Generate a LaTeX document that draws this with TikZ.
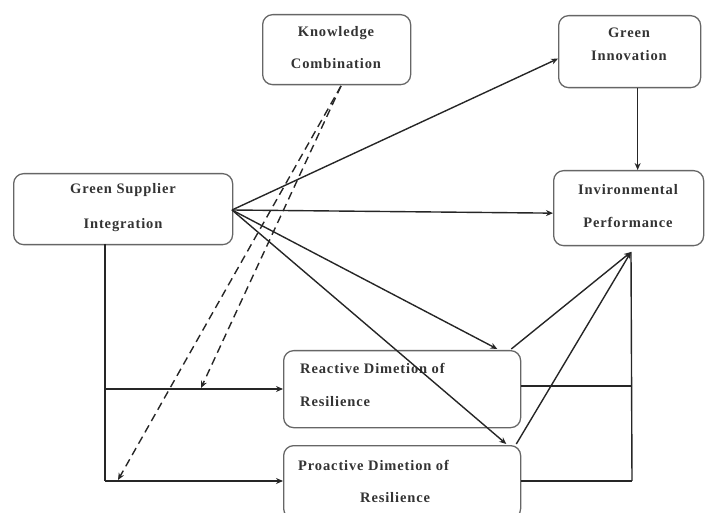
\documentclass[tikz,border=0pt]{standalone}
\usepackage{fontspec}
\setmainfont{Liberation Serif}
\newfontfamily\lblfont[LetterSpace=6]{Liberation Serif}
\usetikzlibrary{arrows.meta,calc}
\begin{document}
\begin{tikzpicture}[x=1pt,y=-1pt,
  box/.style={draw=black!60, line width=1.3pt, rounded corners=10pt, anchor=north west, inner sep=0pt},
  lbl/.style={font=\lblfont\fontsize{14.5}{16}\selectfont\bfseries, text=black!80, inner sep=0pt},
  con/.style={draw=black!85, line width=1.4pt},
  arr/.style={con, -{Stealth[length=7pt,width=6pt]}},
  dsh/.style={arr, dash pattern=on 8pt off 5pt}]
\useasboundingbox (0,0) rectangle (705,513);
% boxes
\node[box, minimum width=148pt, minimum height=70pt] (kc) at (262,14) {};
\node[box, minimum width=142pt, minimum height=72pt] (gi) at (558,15) {};
\node[box, minimum width=150pt, minimum height=75pt] (ep) at (553,170) {};
\node[box, minimum width=219pt, minimum height=71pt] (gsi) at (13,173) {};
\node[box, minimum width=237pt, minimum height=77pt] (re) at (283,350) {};
\node[box, minimum width=237pt, minimum height=73pt] (pr) at (283,445) {};
% texts
\node[lbl] (kc1) at (336,33) {Knowledge};
\node[lbl] (kc2) at (336,64) {Combination};
\node[lbl] (gi1) at (629,33) {Green};
\node[lbl] (gi2) at (629,56) {Innovation};
\node[lbl] (ep1) at (628,190) {Invironmental};
\node[lbl] (ep2) at (628,222) {Performance};
\node[lbl] (gsi1) at (123,190) {Green Supplier};
\node[lbl] (gsi2) at (123,225) {Integration};
\node[lbl, anchor=west] (re1) at (300,368) {Reactive Dimetion of};
\node[lbl, anchor=west] (re2) at (300,402) {Resilience};
\node[lbl, anchor=west] (pr1) at (298,465) {Proactive Dimetion of};
\node[lbl, anchor=west] (pr2) at (360,498) {Resilience};
% coordinates
\coordinate (src) at (232,210);
\coordinate (epin) at (631,252);
\coordinate (kcout) at (341,86);
\coordinate (gsib) at (105,244);
\coordinate (j1) at (105,389);
\coordinate (j2) at (105,481);
\coordinate (m1) at (201,388);
\coordinate (m2) at (118,480);
\coordinate (r1) at (632,386);
\coordinate (r2) at (632,481);
% connectors
\draw[arr] (src) -- ($(gi.west)+(0,7)$);
\draw[arr] (src) -- ($(ep.west)+(0,5)$);
\draw[arr] (src) -- ($(re.north east)+(-24,-1)$);
\draw[arr] (src) -- ($(pr.north east)+(-15,-1)$);
\draw[arr] ($(gi.south)+(8,0)$) -- ($(ep.north)+(9,0)$);
\draw[arr] ($(re.north east)+(-10,-1)$) -- (epin);
\draw[arr] ($(pr.north east)+(-5,-1)$) -- (epin);
\draw[con] (epin) -- (r2);
\draw[con] (re.east |- r1) -- (r1);
\draw[con] (pr.east |- r2) -- (r2);
\draw[con] (gsib) -- (j2);
\draw[arr] (j1) -- (re.west |- j1);
\draw[arr] (j2) -- (pr.west |- j2);
\draw[dsh] (kcout) -- (m1);
\draw[dsh] (kcout) -- (m2);
\end{tikzpicture}
\end{document}
